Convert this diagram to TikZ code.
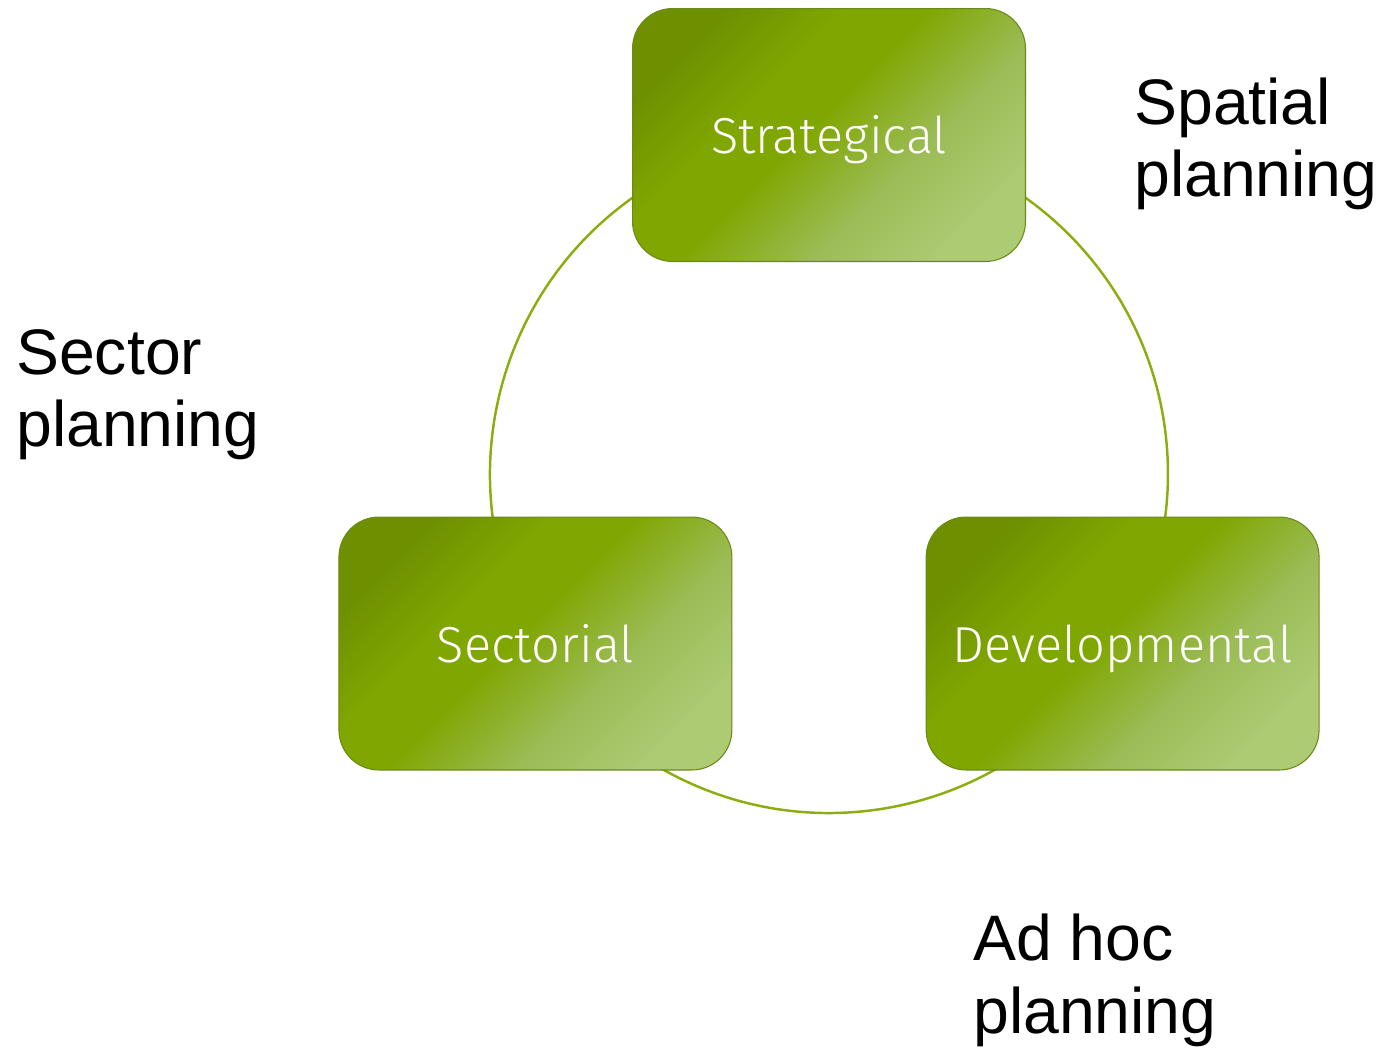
\documentclass[tikz,border=0pt]{standalone}
\usepackage{fontspec}
\setmainfont{Liberation Sans}
\newfontfamily\boxfont{Fira Sans Light}
\usetikzlibrary{backgrounds}
\definecolor{gdark}{HTML}{6E9000}
\definecolor{gmid}{HTML}{80A600}
\definecolor{gmidl}{HTML}{9CBC58}
\definecolor{glight}{HTML}{ACCB72}
\definecolor{gborder}{HTML}{6A8A18}
\definecolor{gring}{HTML}{8CAD10}
\pgfdeclarehorizontalshading{boxshade}{100bp}{color(0bp)=(gdark); color(25bp)=(gdark); color(38bp)=(gmid); color(47bp)=(gmid); color(62bp)=(gmidl); color(75bp)=(glight); color(100bp)=(glight)}
\tikzset{
  stagebox/.style={rectangle, rounded corners=0.8cm, minimum width=7.86cm, minimum height=5.06cm,
    draw=gborder, line width=0.6pt, shading=boxshade, shading angle=-45, text=white,
    font=\boxfont\fontsize{28.8}{34}\selectfont, inner sep=0pt, text height=21.5pt, text depth=0pt},
  planlabel/.style={anchor=north west, align=left, inner sep=0pt, font=\fontsize{36.6}{41}\selectfont},
  ring/.style={draw=gring, line width=1.4pt}
}
\begin{document}
\begin{tikzpicture}[x=0.02cm,y=-0.02cm]
\useasboundingbox (0,0) rectangle (1381,1049);
\node[stagebox] (str) at (829,135) {Strategical};
\node[stagebox] (dev) at (1122.6,643.5) {Developmental};
\node[stagebox] (sec) at (535.4,643.5) {Sectorial};
\begin{scope}[on background layer]
\draw[ring] (str.center) arc[start angle=90,end angle=-30,radius=6.78cm];
\draw[ring] (dev.center) arc[start angle=-30,end angle=-150,radius=6.78cm];
\draw[ring] (sec.center) arc[start angle=210,end angle=90,radius=6.78cm];
\end{scope}
\node[planlabel] (spatial) at (1134,78) {Spatial\\planning};
\node[planlabel] (sector) at (16,329) {Sector\\planning};
\node[planlabel] (adhoc) at (973,914) {Ad hoc\\planning};
\end{tikzpicture}
\end{document}
